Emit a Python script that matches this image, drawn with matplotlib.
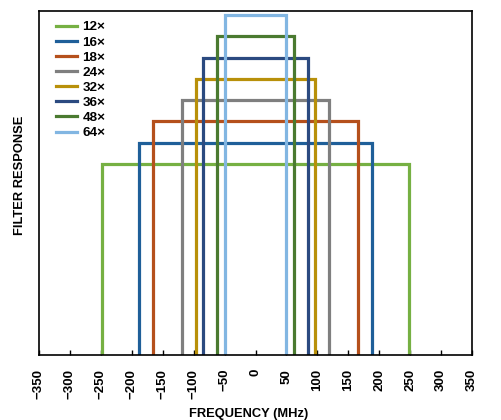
import matplotlib
matplotlib.use("Agg")
import matplotlib.pyplot as plt

labels = ["12×", "16×", "18×", "24×", "32×", "36×", "48×", "64×"]
half_bw = [248, 189, 166, 119, 96, 85, 62, 50]
levels = [0.555, 0.617, 0.680, 0.741, 0.802, 0.863, 0.927, 0.988]
colors = ["#76B043", "#1F5F99", "#B5501C", "#7F7F7F", "#B8900A", "#2B4A80", "#4A7A30", "#82B6E2"]
xticks = list(range(-350, 351, 50))

plt.rcParams['font.family'] = ['Liberation Sans', 'DejaVu Sans']
plt.rcParams['font.weight'] = 'bold'

fig = plt.figure(figsize=(5.01, 4.2), dpi=100)
ax = fig.add_axes([39/501, 65/420, 433/501, 344/420])

for lab, w, h, c in zip(labels, half_bw, levels, colors):
    ax.plot([-w, -w, w, w], [0, h, h, 0], color=c, lw=2.3, label=lab, solid_joinstyle='miter')

ax.set_xlim(-350, 350)
ax.set_ylim(0, 1)
ax.set_xticks(xticks)
ax.set_xticklabels([str(t).replace('-', '\u2212') for t in xticks], rotation=90, fontsize=9.5, fontweight='bold')
ax.tick_params(axis='x', direction='in', length=3.5, width=1, pad=10)
ax.set_yticks([])
for s in ax.spines.values():
    s.set_linewidth(1.2)
    s.set_color('black')

fig.text(249/501, 1 - 414/420, "FREQUENCY (MHz)", ha='center', va='center', fontsize=9.3, fontweight='bold')
fig.text(20/501, 1 - 175/420, "FILTER RESPONSE", ha='center', va='center', rotation=90, fontsize=9.3, fontweight='bold')

leg = ax.legend(loc='upper left', bbox_to_anchor=(56/501, 1 - 21/420), bbox_transform=fig.transFigure,
                frameon=False, fontsize=9.7, handlelength=1.55, handletextpad=0.4,
                labelspacing=0.2, borderaxespad=0, borderpad=0)
for t in leg.get_texts():
    t.set_fontweight('bold')

fig.savefig("out.png", dpi=100)
